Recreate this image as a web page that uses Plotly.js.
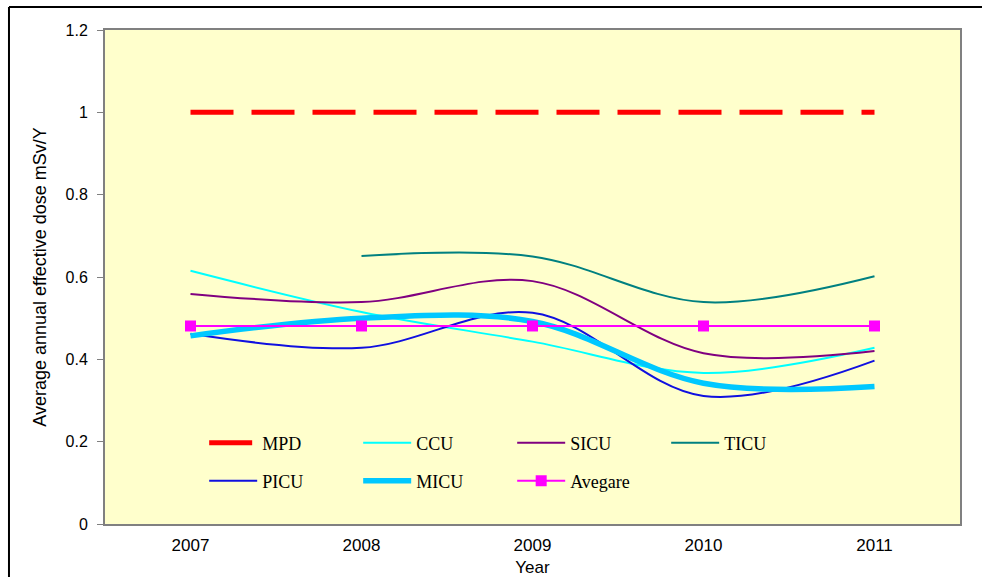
<!DOCTYPE html>
<html>
<head>
<meta charset="utf-8">
<script src="https://cdn.plot.ly/plotly-3.0.1.min.js"></script>
<style>html,body{margin:0;padding:0;background:#fff;}#chart{width:982px;height:577px;}</style>
</head>
<body>
<div id="chart"></div>
<script>
var years = ['2007', '2008', '2009', '2010', '2011'];
var mpd = [1, 1, 1, 1, 1];
var ccu = [0.615, 0.515, 0.443, 0.367, 0.428];
var sicu = [0.559, 0.539, 0.590, 0.415, 0.420];
var ticu = [null, 0.651, 0.650, 0.539, 0.602];
var picu = [0.462, 0.428, 0.513, 0.311, 0.397];
var micu = [0.457, 0.500, 0.492, 0.342, 0.334];
var avegare = [0.481, 0.481, 0.481, 0.481, 0.481];

function sm(name, y, color, width, legend) {
  return {
    x: years, y: y, name: name, type: 'scatter', mode: 'lines',
    line: {color: color, width: width, shape: 'spline', smoothing: 1},
    connectgaps: false, legend: legend
  };
}

var traces = [
  {x: years, y: mpd, name: 'MPD', type: 'scatter', mode: 'lines',
   line: {color: '#FF0000', width: 5, dash: '43px,18px'}, legend: 'legend'},
  sm('CCU', ccu, '#00FFFF', 2, 'legend'),
  sm('SICU', sicu, '#800080', 2, 'legend'),
  sm('TICU', ticu, '#008080', 2, 'legend'),
  sm('PICU', picu, '#1010E0', 2, 'legend2'),
  sm('MICU', micu, '#00C8FF', 5.5, 'legend2'),
  {x: years, y: avegare, name: 'Avegare', type: 'scatter', mode: 'lines+markers',
   line: {color: '#FF00FF', width: 2},
   marker: {symbol: 'square', size: 11, color: '#FF00FF'}, legend: 'legend2'}
];

var legFont = {family: '"Liberation Serif", "Times New Roman", serif', size: 18, color: '#000'};
var legBase = {
  orientation: 'h', entrywidth: 91, entrywidthmode: 'pixels', itemwidth: 48,
  bgcolor: 'rgba(0,0,0,0)', font: legFont, xanchor: 'left', yanchor: 'middle',
  tracegroupgap: 0, itemclick: false
};

var layout = {
  width: 982, height: 577,
  margin: {l: 105, r: 22, t: 30, b: 53},
  paper_bgcolor: '#FFFFFF',
  plot_bgcolor: '#FFFFCC',
  showlegend: true,
  font: {family: '"Liberation Sans", Arial, sans-serif', color: '#000'},
  xaxis: {
    type: 'category', range: [-0.5, 4.5],
    showgrid: false, zeroline: false,
    showline: true, mirror: true, linecolor: '#808080', linewidth: 2,
    ticks: 'outside', ticklen: 5, tickcolor: 'rgba(0,0,0,0)',
    tickfont: {size: 17, color: '#000'},
    title: {text: 'Year', font: {size: 17, color: '#000'}, standoff: 8}
  },
  yaxis: {
    range: [0, 1.2], dtick: 0.2, tickformat: '',
    showgrid: false, zeroline: false,
    showline: true, mirror: true, linecolor: '#808080', linewidth: 2,
    ticks: 'outside', ticklen: 6, tickcolor: '#808080', tickwidth: 1,
    tickfont: {size: 16, color: '#000'},
    ticklabelstandoff: 6,
    title: {text: 'Average annual effective dose mSv/Y', font: {size: 18, color: '#000'}, standoff: 14}
  },
  legend: Object.assign({}, legBase, {x: 0.116, y: 0.164}),
  legend2: Object.assign({}, legBase, {x: 0.116, y: 0.087}),
  shapes: [
    {type: 'line', xref: 'paper', yref: 'paper', x0: -0.1123, x1: 1.03, y0: 1.0466, y1: 1.0466,
     line: {color: '#000', width: 2}},
    {type: 'line', xref: 'paper', yref: 'paper', x0: -0.1123, x1: -0.1123, y0: 1.0466, y1: -0.12,
     line: {color: '#000', width: 2}}
  ]
};

Plotly.newPlot('chart', traces, layout, {displayModeBar: false, staticPlot: true});
</script>
</body>
</html>
